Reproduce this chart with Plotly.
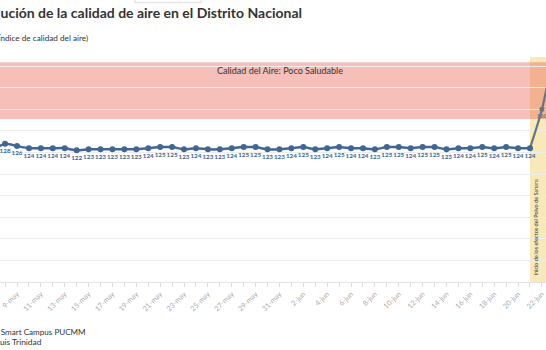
import plotly.graph_objects as go
import pandas as pd

# ---- data ----
dates = pd.date_range('2020-05-07', '2020-06-21', freq='D')
aqi = [123, 128, 126, 124, 124, 124, 124, 122, 123, 123, 123, 123, 123, 124,
       125, 125, 123, 124, 123, 123, 124, 125, 125, 123, 123, 124, 125, 123,
       124, 125, 124, 124, 123, 125, 125, 124, 125, 125, 123, 124, 124, 125,
       124, 125, 124, 124]
sahara_dates = pd.to_datetime(['2020-06-21', '2020-06-22', '2020-06-23'])
sahara_aqi = [124, 160, 214]
sahara_text = ['', '160', '214']
tick_dates = pd.date_range('2020-05-09', '2020-06-22', freq='2D')
tick_labels = ['9-may', '11-may', '13-may', '15-may', '17-may', '19-may', '21-may',
               '23-may', '25-may', '27-may', '29-may', '31-may', '2-jun', '4-jun',
               '6-jun', '8-jun', '10-jun', '12-jun', '14-jun', '16-jun', '18-jun',
               '20-jun', '22-jun']
band_low, band_high = 151, 203.6
band_label = 'Calidad del Aire: Poco Saludable'
sahara_start = '2020-06-21'
sahara_label = 'Inicio de los efectos del Polvo de Sahara'

# ---- layout geometry ----
W, H = 546, 350
T, B = 57, 68
PH = H - T - B
YMAX = 208.5
DAY_PX = 11.93
X_REF = pd.Timestamp('2020-05-09')
X_REF_PX = 17.0
x_start = X_REF - pd.Timedelta(days=X_REF_PX / DAY_PX)
x_end = X_REF + pd.Timedelta(days=(W - X_REF_PX) / DAY_PX)

def py(pix):  # pixel y -> paper y
    return (H - B - pix) / PH

def pxx(pix):  # pixel x -> paper x
    return pix / W

BLUE = '#3f6694'
GREY = '#66757f'
FONT = 'Lato'

fig = go.Figure()

fig.add_trace(go.Scatter(
    x=sahara_dates, y=sahara_aqi, mode='lines+markers+text',
    text=sahara_text, textposition='bottom center',
    line=dict(color=GREY, width=2.2, shape='spline', smoothing=0.8),
    marker=dict(size=5, color=GREY),
    textfont=dict(family=FONT, size=6, color=GREY, weight=700),
    cliponaxis=False, hoverinfo='skip'))

fig.add_trace(go.Scatter(
    x=dates, y=aqi, mode='lines+markers+text',
    text=[str(v) for v in aqi], textposition='bottom center',
    line=dict(color=BLUE, width=2.5, shape='spline', smoothing=0.6),
    marker=dict(size=6, color=BLUE),
    textfont=dict(family=FONT, size=6.3, color=BLUE, weight=700),
    hoverinfo='skip'))

shapes = [
    dict(type='rect', xref='x', yref='paper', x0=sahara_start, x1='2020-06-30',
         y0=0, y1=1, fillcolor='#f9e8b9', line_width=0, layer='between'),
    dict(type='rect', xref='paper', yref='y', x0=-0.1, x1=1.1,
         y0=band_low, y1=band_high, fillcolor='rgba(232,96,80,0.4)',
         line_width=0, layer='between'),
    dict(type='rect', xref='paper', yref='paper', x0=pxx(135), x1=pxx(201),
         y0=py(2.7), y1=py(-10), fillcolor='white',
         line=dict(color='#dddddd', width=1), layer='above'),
]

annotations = [
    dict(text='<b>Evolución de la calidad de aire en el Distrito Nacional</b>',
         xref='paper', yref='paper', x=pxx(304), y=py(12), xanchor='right',
         yanchor='middle', showarrow=False,
         font=dict(family=FONT, size=14, color='#333333')),
    dict(text='(Índice de calidad del aire)',
         xref='paper', yref='paper', x=pxx(90), y=py(37.5), xanchor='right',
         yanchor='middle', showarrow=False,
         font=dict(family=FONT, size=8.2, color='#333333')),
    dict(text='Fuente: Smart Campus PUCMM',
         xref='paper', yref='paper', x=pxx(88), y=py(331.5), xanchor='right',
         yanchor='middle', showarrow=False,
         font=dict(family=FONT, size=8.1, color='#333333')),
    dict(text='Gráfico: Luis Trinidad',
         xref='paper', yref='paper', x=pxx(43.5), y=py(342), xanchor='right',
         yanchor='middle', showarrow=False,
         font=dict(family=FONT, size=8.4, color='#333333')),
    dict(text=band_label, xref='paper', yref='paper', x=pxx(279.5), y=py(70),
         xanchor='center', yanchor='middle', showarrow=False,
         font=dict(family=FONT, size=9, color='#333333')),
    dict(text=sahara_label, xref='paper', yref='paper', x=pxx(535.5), y=py(278),
         xanchor='center', yanchor='bottom', textangle=-90, showarrow=False,
         font=dict(family=FONT, size=5.5, color='#333333')),
]

fig.update_layout(
    width=W, height=H, margin=dict(l=0, r=0, t=T, b=B, pad=0),
    paper_bgcolor='white', plot_bgcolor='white', showlegend=False,
    shapes=shapes, annotations=annotations,
    font=dict(family=FONT),
    xaxis=dict(type='date', range=[x_start, x_end], tickmode='array',
               tickvals=tick_dates, ticktext=tick_labels, tickangle=-45,
               tickfont=dict(family=FONT, size=7.2, color='#aaaaaa'),
               ticklabeloverflow='allow',
               ticks='outside', ticklen=4, tickcolor='#dddddd',
               showgrid=False, showline=True, linecolor='#e3e3e3',
               minor=dict(ticks='outside', ticklen=4, tickcolor='#dddddd',
                          dtick=86400000, tick0='2020-05-09', showgrid=False),
               zeroline=False, automargin=False, fixedrange=True),
    yaxis=dict(range=[0, YMAX], dtick=20, tick0=0, showgrid=True,
               gridcolor='#ececec', gridwidth=1, zeroline=False,
               showticklabels=False, ticks='', automargin=False, fixedrange=True),
)

fig.write_html('out.html')
